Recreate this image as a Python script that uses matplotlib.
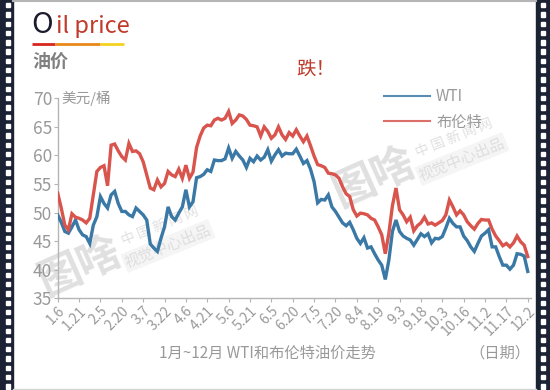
import matplotlib
matplotlib.use('Agg')
import matplotlib.pyplot as plt
import numpy as np
from matplotlib.patches import Rectangle
from matplotlib.lines import Line2D

plt.rcParams['font.family'] = ['Noto Sans CJK SC', 'DejaVu Sans']

# WTI / Brent (6 samples per tick interval)
wti = [49.6, 48.3, 46.7, 46.4, 47.5, 48.7, 47.0, 46.1, 45.8, 44.6,
       47.8, 49.3, 52.8, 51.6, 50.8, 53.1, 53.7, 51.6, 50.2, 50.2,
       49.6, 49.3, 50.8, 50.2, 49.6, 48.7, 44.5, 43.8, 43.2, 45.5,
       47.5, 51.0, 49.3, 48.7, 49.9, 51.0, 54.0, 51.0, 51.9, 56.1,
       56.3, 56.7, 57.5, 57.2, 59.2, 59.1, 59.1, 59.4, 61.3, 59.5,
       60.7, 59.9, 59.2, 57.9, 59.5, 58.9, 59.9, 59.2, 59.7, 61.0,
       59.0, 60.1, 61.0, 59.9, 60.4, 60.3, 60.3, 61.1, 59.9, 58.6,
       59.1, 57.6, 55.4, 51.7, 52.3, 52.2, 53.1, 51.0, 50.2, 49.2,
       48.2, 47.7, 48.3, 47.0, 45.5, 44.6, 45.6, 43.8, 44.0, 42.8,
       41.7, 40.8, 38.3, 41.7, 46.7, 48.7, 46.7, 45.9, 45.5, 45.2,
       44.3, 45.3, 46.3, 45.8, 46.3, 44.7, 45.5, 45.4, 45.8, 47.3,
       49.0, 48.1, 47.5, 47.5, 45.9, 45.1, 44.0, 43.2, 44.6, 45.9,
       46.4, 47.0, 44.0, 44.0, 42.3, 40.8, 40.8, 40.1, 40.8, 42.8,
       42.7, 42.4, 39.7]
brent = [53.4, 50.8, 47.8, 47.0, 49.8, 49.2, 49.0, 48.7, 48.2, 49.0,
         53.1, 57.2, 57.9, 58.2, 54.7, 61.8, 62.0, 60.8, 59.8, 59.2,
         62.1, 60.7, 60.8, 60.3, 58.9, 56.6, 54.3, 54.0, 55.7, 54.5,
         55.1, 57.2, 56.6, 56.3, 57.6, 56.0, 58.3, 56.0, 57.1, 61.4,
         63.4, 64.8, 65.3, 65.2, 66.2, 66.5, 66.2, 66.5, 67.7, 65.6,
         66.2, 67.1, 66.9, 66.3, 65.3, 65.2, 65.0, 63.4, 65.0, 64.2,
         63.0, 63.6, 65.0, 63.6, 62.8, 64.0, 63.4, 64.5, 63.4, 62.4,
         63.4, 61.7, 59.9, 58.4, 58.2, 57.9, 56.9, 56.8, 56.6, 56.0,
         54.5, 53.3, 52.8, 50.5, 49.4, 49.9, 49.8, 49.6, 49.0, 48.7,
         47.5, 46.1, 42.8, 46.4, 51.2, 54.3, 50.5, 49.6, 48.4, 49.2,
         46.8, 47.7, 48.2, 49.2, 48.0, 48.2, 47.8, 48.2, 48.6, 49.6,
         52.2, 51.0, 49.6, 50.3, 49.6, 48.4, 47.7, 47.1, 48.1, 48.8,
         48.7, 48.7, 47.1, 45.9, 45.1, 44.2, 44.6, 44.0, 44.7, 45.9,
         44.9, 44.3, 42.3]
date_labels = ['1.6', '1.21', '2.5', '2.20', '3.7', '3.22', '4.6', '4.21',
               '5.6', '5.21', '6.5', '6.20', '7.5', '7.20', '8.4', '8.19',
               '9.3', '9.18', '10.3', '10.16', '11.2', '11.17', '12.2']
step = 6

W, H = 550, 390
blue = '#3a78a6'
red = '#d9544d'
grey = '#999999'

fig = plt.figure(figsize=(5.5, 3.9), dpi=100)

def fx(px):
    return px / W

def fy(py):
    return 1 - py / H

# film strip frame
for x0, x1, sq in [(0, 13, 6), (536, 550, 541)]:
    fig.add_artist(Rectangle((fx(x0), 0), fx(x1 - x0), 1, transform=fig.transFigure,
                             color='#1b2233', zorder=0))
    for yy in np.arange(3, H, 9.3):
        fig.add_artist(Rectangle((fx(sq), fy(yy + 4.3)), fx(4.3), 4.3 / H,
                                 transform=fig.transFigure, color='white', zorder=1))
fig.add_artist(Line2D([fx(13), fx(536)], [fy(0.8)] * 2, transform=fig.transFigure,
                      color='#b5b5b5', lw=1.5))
fig.add_artist(Line2D([fx(13), fx(536)], [fy(388.5)] * 2, transform=fig.transFigure,
                      color='#d5d5d5', lw=1))

# watermarks (behind the chart)
for cx, cy, sx1, sy1, sx2, sy2 in [(80, 266, 160, 226, 168, 246), (374, 177, 454, 138, 462, 159)]:
    fig.text(fx(cx), fy(cy), '图啥', fontsize=31, fontweight='bold', color='#e0e0e0',
             rotation=24, ha='center', va='center', zorder=0)
    fig.text(fx(sx1), fy(sy1), '中 国 新 闻 网', fontsize=10, color='#e0e0e0',
             rotation=22, ha='center', va='center', zorder=0)
    fig.text(fx(sx2), fy(sy2), '视觉中心出品', fontsize=11, color='#dedede',
             rotation=22, ha='center', va='center', zorder=0,
             bbox=dict(boxstyle='square,pad=0.1', fc='#f5f5f5', ec='none'))

# title
fig.text(fx(31), fy(33), 'O', fontsize=21, color='#1c1c2c', ha='left', va='baseline')
fig.text(fx(56), fy(33), 'il price', fontsize=17, color='#c0392b', ha='left', va='baseline')
for xa, xb, c in [(32, 55, '#d7261e'), (55, 100, '#e8891a'), (100, 124, '#f3d21f')]:
    fig.add_artist(Line2D([fx(xa), fx(xb)], [fy(43.5)] * 2, transform=fig.transFigure,
                          color=c, lw=2, solid_capstyle='butt'))
fig.text(fx(32), fy(61), '油价', fontsize=13, fontweight='bold', color='#808080',
         ha='left', va='center')
fig.text(fx(316), fy(70), '跌！', fontsize=14, color='#c0392b', ha='center', va='center')

# chart
ax = fig.add_axes([fx(57.7), fy(298.3), fx(473.6), 201.7 / H])
ax.set_zorder(2)
ax.patch.set_alpha(0)
x = np.arange(len(wti))
ax.plot(x, wti, color=blue, lw=2.4, solid_joinstyle='miter', zorder=3)
ax.plot(x, brent, color=red, lw=2.4, solid_joinstyle='miter', zorder=3)

ax.set_xlim(0, 133)
ax.set_ylim(35, 70.3)
for s in ['top', 'right']:
    ax.spines[s].set_visible(False)
for s in ['left', 'bottom']:
    ax.spines[s].set_color('#b5b5b5')
    ax.spines[s].set_linewidth(1)
ax.spines['left'].set_bounds(35, 70)

ax.set_yticks(range(35, 71, 5))
ax.set_xticks(np.arange(0, len(wti), step))
ax.set_xticklabels(date_labels, rotation=45, ha='right', va='top', rotation_mode='anchor')
ax.tick_params(axis='y', length=3, color='#b5b5b5', labelcolor=grey, labelsize=12.5, pad=1)
ax.tick_params(axis='x', length=3, color='#b5b5b5', labelcolor=grey, labelsize=10, pad=1)

ax.text(0.008, 70, '美元/桶', fontsize=10.5, color=grey, ha='left', va='center',
        transform=ax.get_yaxis_transform())

handles = [Line2D([], [], color='#5a8db5', lw=1.5), Line2D([], [], color='#dc6f68', lw=1.5)]
ax.legend(handles, ['WTI', '布伦特'], loc='upper left', bbox_to_anchor=(fx(378), fy(82)),
          bbox_transform=fig.transFigure, frameon=False, fontsize=11, labelcolor=grey,
          handlelength=3.0, handletextpad=0.4, labelspacing=0.55, borderaxespad=0)

fig.text(fx(267), fy(353), '1月~12月 WTI和布伦特油价走势', fontsize=11, color=grey,
         ha='center', va='center')
fig.text(fx(530), fy(353), '（日期）', fontsize=11, color=grey, ha='right', va='center')

fig.savefig('out.png', dpi=100)
